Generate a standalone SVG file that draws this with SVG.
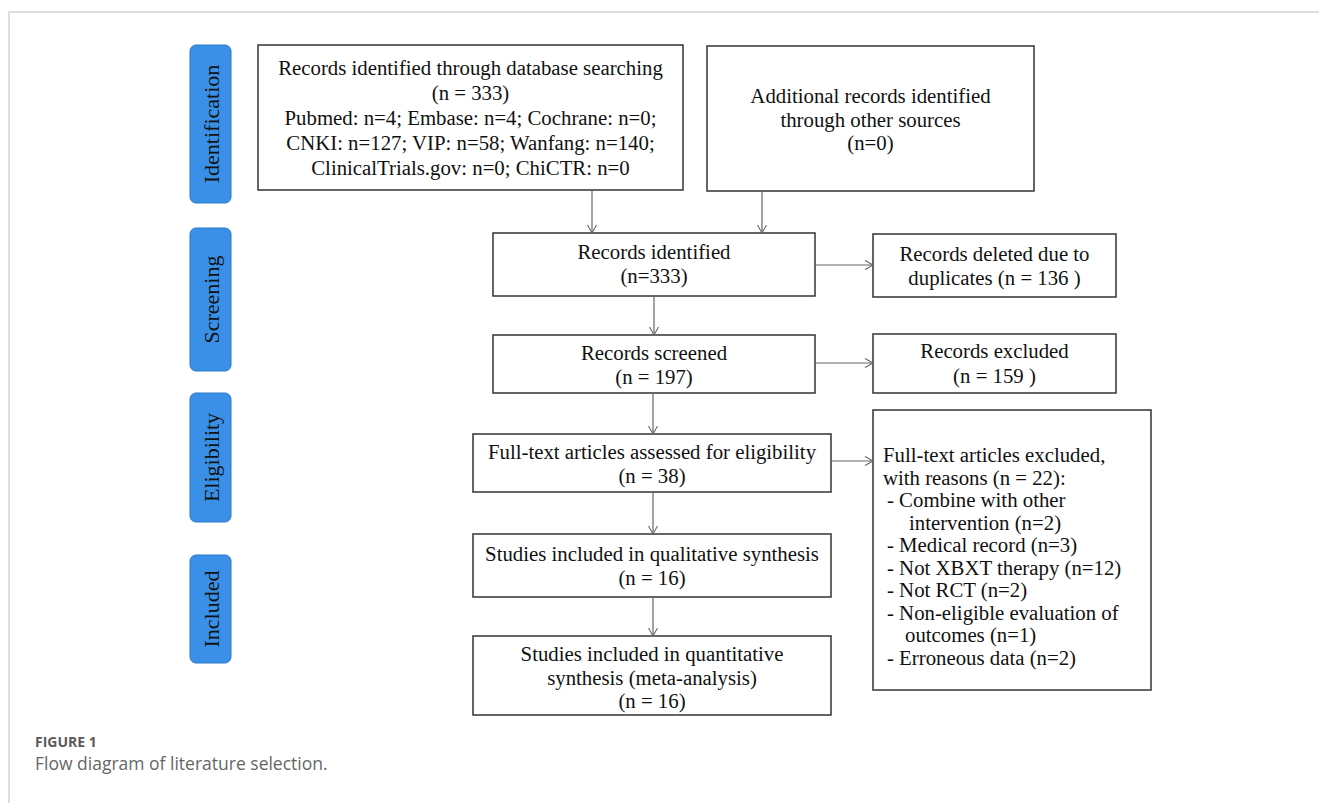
<svg xmlns="http://www.w3.org/2000/svg" width="1319" height="803" viewBox="0 0 1319 803">
<style>
.frame{stroke:#d4d4d4;stroke-width:1.5;fill:none}
.box{fill:#fff;stroke:#333;stroke-width:1.5}
.phase{fill:#3a90e6;stroke:#2c78c8;stroke-width:1}
.t{font-family:"Liberation Serif","Times New Roman",serif;font-size:20.8px;fill:#111}
.c{text-anchor:middle}
.pt{font-family:"Liberation Serif","Times New Roman",serif;font-size:22px;fill:#111;text-anchor:middle}
.conn{stroke:#666;stroke-width:1.2;fill:none;marker-end:url(#arr)}
.cap1{font-family:"Open Sans","Noto Sans",sans-serif;font-size:14px;font-weight:bold;fill:#5a5a5a}
.cap2{font-family:"Open Sans","Noto Sans",sans-serif;font-size:17.5px;fill:#666}
</style>
<defs>
<marker id="arr" markerUnits="userSpaceOnUse" markerWidth="12" markerHeight="12" refX="9" refY="5" orient="auto">
<path d="M1,0.5 L9,5 L1,9.5" fill="none" stroke="#666" stroke-width="1.1"/>
</marker>
</defs>
<rect width="1319" height="803" fill="#fff"/>
<path class="frame" d="M9,803 V12 H1319"/>

<g id="phase-identification"><rect class="phase" x="190" y="45" width="41" height="158" rx="6"/><text class="pt" transform="translate(218.5,124) rotate(-90)">Identification</text></g>
<g id="phase-screening"><rect class="phase" x="190" y="228" width="41" height="143" rx="6"/><text class="pt" transform="translate(218.5,299.5) rotate(-90)">Screening</text></g>
<g id="phase-eligibility"><rect class="phase" x="190" y="393" width="41" height="129" rx="6"/><text class="pt" transform="translate(218.5,457.5) rotate(-90)">Eligibility</text></g>
<g id="phase-included"><rect class="phase" x="190" y="555" width="41" height="108" rx="6"/><text class="pt" transform="translate(218.5,609) rotate(-90)">Included</text></g>

<g id="box-db"><rect class="box" x="258" y="45" width="425" height="145"/>
<text class="t c" x="470.5" y="75">Records identified through database searching</text>
<text class="t c" x="470.5" y="100">(n = 333)</text>
<text class="t c" x="470.5" y="125">Pubmed: n=4; Embase: n=4; Cochrane: n=0;</text>
<text class="t c" x="470.5" y="150">CNKI: n=127; VIP: n=58; Wanfang: n=140;</text>
<text class="t c" x="470.5" y="175">ClinicalTrials.gov: n=0; ChiCTR: n=0</text></g>

<g id="box-other"><rect class="box" x="707" y="46" width="327" height="145"/>
<text class="t c" x="870.5" y="103">Additional records identified</text>
<text class="t c" x="870.5" y="127">through other sources</text>
<text class="t c" x="870.5" y="150">(n=0)</text></g>

<g id="box-identified"><rect class="box" x="493" y="233" width="322" height="63"/>
<text class="t c" x="654" y="259">Records identified</text>
<text class="t c" x="654" y="283">(n=333)</text></g>

<g id="box-duplicates"><rect class="box" x="873" y="234" width="243" height="63"/>
<text class="t c" x="994.5" y="261">Records deleted due to</text>
<text class="t c" x="994.5" y="285">duplicates (n = 136 )</text></g>

<g id="box-screened"><rect class="box" x="493" y="335" width="322" height="58"/>
<text class="t c" x="654" y="360">Records screened</text>
<text class="t c" x="654" y="384">(n = 197)</text></g>

<g id="box-excluded"><rect class="box" x="873" y="334" width="243" height="59"/>
<text class="t c" x="994.5" y="358">Records excluded</text>
<text class="t c" x="994.5" y="383">(n = 159 )</text></g>

<g id="box-fulltext"><rect class="box" x="473" y="434" width="358" height="58"/>
<text class="t c" x="652" y="459">Full-text articles assessed for eligibility</text>
<text class="t c" x="652" y="483">(n = 38)</text></g>

<g id="box-ft-excluded"><rect class="box" x="873" y="410" width="278" height="280"/>
<text class="t" x="883" y="462">Full-text articles excluded,</text>
<text class="t" x="883" y="484.5">with reasons (n = 22):</text>
<text class="t" x="887" y="507"> - Combine with other</text>
<text class="t" x="909" y="529.5">intervention (n=2)</text>
<text class="t" x="887" y="552"> - Medical record (n=3)</text>
<text class="t" x="887" y="574.5"> - Not XBXT therapy (n=12)</text>
<text class="t" x="887" y="597"> - Not RCT (n=2)</text>
<text class="t" x="887" y="619.5"> - Non-eligible evaluation of</text>
<text class="t" x="905" y="642">outcomes (n=1)</text>
<text class="t" x="887" y="664.5"> - Erroneous data (n=2)</text></g>

<g id="box-qualitative"><rect class="box" x="473" y="534" width="358" height="63"/>
<text class="t c" x="652" y="561">Studies included in qualitative synthesis</text>
<text class="t c" x="652" y="585">(n = 16)</text></g>

<g id="box-quantitative"><rect class="box" x="473" y="636" width="358" height="79"/>
<text class="t c" x="652" y="661">Studies included in quantitative</text>
<text class="t c" x="652" y="685">synthesis (meta-analysis)</text>
<text class="t c" x="652" y="708">(n = 16)</text></g>

<g id="connectors">
<line class="conn" x1="592" y1="190" x2="592" y2="233"/>
<line class="conn" x1="762" y1="191" x2="762" y2="233"/>
<line class="conn" x1="815" y1="265" x2="873" y2="265"/>
<line class="conn" x1="654" y1="296" x2="654" y2="335"/>
<line class="conn" x1="815" y1="363" x2="873" y2="363"/>
<line class="conn" x1="653" y1="393" x2="653" y2="434"/>
<line class="conn" x1="831" y1="461" x2="873" y2="461"/>
<line class="conn" x1="653" y1="492" x2="653" y2="534"/>
<line class="conn" x1="653" y1="597" x2="653" y2="636"/>
</g>

<text class="cap1" x="35" y="747">FIGURE 1</text>
<text class="cap2" x="35" y="770">Flow diagram of literature selection.</text>
</svg>
